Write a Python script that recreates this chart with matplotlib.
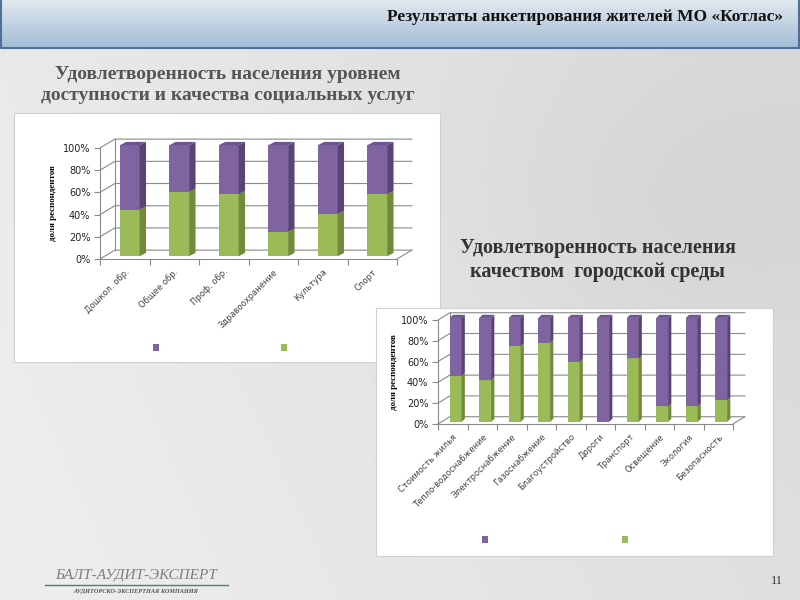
import numpy as np
import matplotlib
matplotlib.use('Agg')
import matplotlib.pyplot as plt
from matplotlib.patches import Rectangle, Polygon, Patch

# chart 1: social services
cats1 = ['Дошкол. обр.', 'Общее обр.', 'Проф. обр.', 'Здравоохранение', 'Культура', 'Спорт']
sat1 = [42, 58, 56, 22, 38, 56]
unsat1 = [58, 42, 44, 78, 62, 44]

# chart 2: urban environment
cats2 = ['Стоимость жилья', 'Тепло-водоснабжение', 'Электроснабжение', 'Газоснабжение',
         'Благоустройство', 'Дороги', 'Транспорт', 'Освещение', 'Экология', 'Безопасность']
sat2 = [44, 40, 73, 76, 58, 0, 61, 15, 15, 21]
unsat2 = [56, 60, 27, 24, 42, 100, 39, 85, 85, 79]

yticks = [0, 20, 40, 60, 80, 100]

GREEN = ('#9bbb59', '#728a3c', '#86a34a')
PURPLE = ('#8064a2', '#5a4476', '#6d5590')

W, H = 800, 600
fig = plt.figure(figsize=(8, 6), dpi=100)

# slide background in pixel coords
bg = fig.add_axes([0, 0, 1, 1])
gx = np.linspace(0, 1, 200)
gy = np.linspace(0, 1, 150)
X, Y = np.meshgrid(gx, gy)
shade = 0.915 - 0.06 * X + 0.02 * Y - 0.03 * np.exp(-((X - 0.85) ** 2 + (Y - 0.35) ** 2) / 0.08)
bg.imshow(np.dstack([shade, shade, shade]), extent=(0, W, H, 0), aspect='auto', zorder=0)

# header band
hg = np.linspace(0, 1, 60)[:, None]
top = np.array([0.88, 0.91, 0.93])
bot = np.array([0.64, 0.74, 0.84])
band = (top * (1 - hg) + bot * hg)[:, None, :].repeat(2, axis=1)
bg.imshow(band, extent=(0, W, 48, 0), aspect='auto', zorder=1)
bg.plot([1, 1, W - 1, W - 1], [0, 48, 48, 0], color='#4f6f98', lw=1.5, zorder=2)
bg.text(783, 17, 'Результаты анкетирования жителей МО «Котлас»', ha='right', va='center',
        fontsize=12.5, fontweight='bold', family='Liberation Serif', color='#111111', zorder=3)

# titles
bg.text(228, 85, 'Удовлетворенность населения уровнем\nдоступности и качества социальных услуг',
        ha='center', va='center', fontsize=14, fontweight='bold', family='Liberation Serif',
        color='#555555', linespacing=1.3, zorder=3)
bg.text(598, 260, 'Удовлетворенность населения\nкачеством  городской среды',
        ha='center', va='center', fontsize=14.5, fontweight='bold', family='Liberation Serif',
        color='#333333', linespacing=1.3, zorder=3)

# chart boxes
bg.add_patch(Rectangle((14, 113), 426, 249, facecolor='white', edgecolor='#d0d0d0', lw=0.8, zorder=2))
bg.add_patch(Rectangle((376, 308), 397, 248, facecolor='white', edgecolor='#d0d0d0', lw=0.8, zorder=2))

# footer
bg.text(136, 576, 'БАЛТ-АУДИТ-ЭКСПЕРТ', ha='center', va='center', fontsize=11,
        style='italic', family='Liberation Serif', color='#7f7f7f', zorder=3)
bg.plot([45, 228], [585, 585], color='#3f8a5a', lw=1, zorder=3)
bg.text(136, 591, 'АУДИТОРСКО-ЭКСПЕРТНАЯ КОМПАНИЯ', ha='center', va='center', fontsize=4.5,
        style='italic', fontweight='bold', family='Liberation Serif', color='#555555', zorder=3)
bg.text(777, 581, '11', ha='center', va='center', fontsize=9, family='Liberation Serif',
        color='#333333', zorder=3)

bg.set_xlim(0, W)
bg.set_ylim(H, 0)
bg.axis('off')


def px_axes(x0, y0, x1, y1):
    return fig.add_axes([x0 / W, (H - y1) / H, (x1 - x0) / W, (y1 - y0) / H])


def chart(ax, cats, sat, unsat, ox, oy, bx, by, dx, dy, bw=0.4):
    n = len(cats)
    ax.set_xlim(-0.5, n - 0.5)
    ax.set_ylim(0, 100)
    ax.set_facecolor('none')
    # back wall gridlines
    for v in yticks:
        ax.plot([-0.5, -0.5 + dx, n - 0.5 + dx], [v, v + dy, v + dy],
                color='#8a8a8a', lw=0.8, clip_on=False, zorder=1)
    ax.plot([-0.5 + dx, -0.5 + dx], [dy, 100 + dy], color='#8a8a8a', lw=0.8, clip_on=False, zorder=1)
    ax.plot([n - 0.5, n - 0.5 + dx], [0, dy], color='#8a8a8a', lw=0.8, clip_on=False, zorder=1)
    # bars
    for i in range(n):
        x0 = i - bw / 2 + ox
        base = oy
        for val, cols in ((sat[i], GREEN), (unsat[i], PURPLE)):
            if val <= 0:
                continue
            y0, y1 = base, base + val
            ax.add_patch(Rectangle((x0, y0), bw, val, facecolor=cols[0], lw=0,
                                   clip_on=False, zorder=3))
            ax.add_patch(Polygon([(x0 + bw, y0), (x0 + bw + bx, y0 + by), (x0 + bw + bx, y1 + by),
                                  (x0 + bw, y1)], closed=True, facecolor=cols[1], lw=0,
                                 clip_on=False, zorder=3))
            ax.add_patch(Polygon([(x0, y1), (x0 + bx, y1 + by), (x0 + bw + bx, y1 + by),
                                  (x0 + bw, y1)], closed=True, facecolor=cols[2], lw=0,
                                 clip_on=False, zorder=3))
            base = y1
    for s in ('top', 'right'):
        ax.spines[s].set_visible(False)
    for s in ('left', 'bottom'):
        ax.spines[s].set_color('#8a8a8a')
        ax.spines[s].set_linewidth(0.8)
    ax.set_yticks(yticks)
    ax.set_yticklabels([f'{v}%' for v in yticks], fontsize=7, color='#222222')
    ax.set_xticks(np.arange(n + 1) - 0.5)
    ax.set_xticklabels([])
    ax.set_xticks(np.arange(n), minor=True)
    ax.set_xticklabels(cats, minor=True, rotation=45, ha='right', rotation_mode='anchor',
                       fontsize=6, color='#444444')
    ax.tick_params(axis='x', which='minor', length=0, pad=6)
    ax.tick_params(axis='both', which='major', length=4, color='#8a8a8a', width=0.8, pad=3)
    ax.set_ylabel('доля респондентов', fontsize=6.5, fontweight='bold', family='Liberation Serif',
                  labelpad=4)


ax1 = px_axes(100, 148, 397, 259)
chart(ax1, cats1, sat1, unsat1, ox=0.1, oy=2.5, bx=0.13, by=3, dx=0.3, dy=8)
ax2 = px_axes(438, 320, 733, 424)
chart(ax2, cats2, sat2, unsat2, ox=0.1, oy=2, bx=0.11, by=3, dx=0.4, dy=7)
ax2.yaxis.labelpad = 2

handles = [Patch(facecolor=PURPLE[0]), Patch(facecolor=GREEN[0])]
fig.legend(handles, ['', ''], ncol=2, loc='center', bbox_to_anchor=(221 / W, 1 - 348 / H),
           frameon=False, fontsize=7, handlelength=0.65, handleheight=0.65,
           handletextpad=0.2, columnspacing=12.3, borderpad=0)
fig.legend(handles, ['', ''], ncol=2, loc='center', bbox_to_anchor=(556 / W, 1 - 540 / H),
           frameon=False, fontsize=7, handlelength=0.65, handleheight=0.65,
           handletextpad=0.2, columnspacing=13.6, borderpad=0)

fig.savefig('out.png', dpi=100)
